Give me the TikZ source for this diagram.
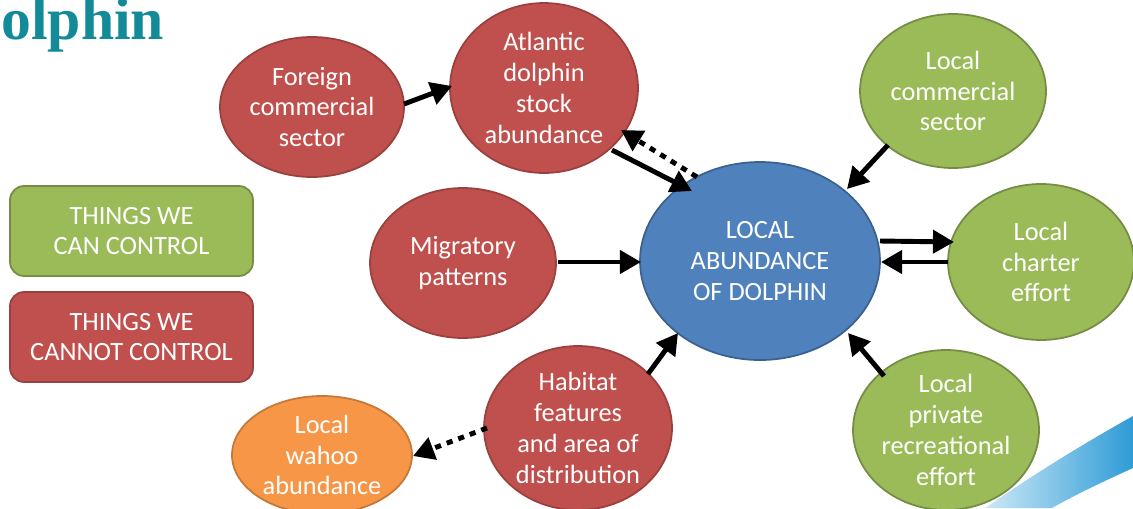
\documentclass[tikz,border=0pt]{standalone}
\usepackage{fontspec}
\setmainfont{Carlito}
\newfontfamily\titlefont{Liberation Serif}
\usetikzlibrary{shapes.geometric,arrows.meta}
\definecolor{cred}{HTML}{C0504D}
\definecolor{cgreen}{HTML}{9BBB59}
\definecolor{cblue}{HTML}{4F81BD}
\definecolor{corange}{HTML}{F79646}
\definecolor{cteal}{HTML}{138A98}
\definecolor{swdark}{HTML}{2E9BD6}
\definecolor{swlight}{HTML}{CDE9F7}
\tikzset{
  bub/.style={ellipse, inner sep=0pt, align=center, text=white,
    font=\fontsize{15}{17.6}\selectfont, line width=1pt},
  redb/.style={bub, fill=cred, draw=cred!80!black},
  greenb/.style={bub, fill=cgreen, draw=cgreen!75!black},
  blueb/.style={bub, fill=cblue, draw=cblue!75!black},
  orangeb/.style={bub, fill=corange, draw=corange!80!black},
  legbox/.style={rounded corners=8pt, inner sep=0pt, align=center, text=white,
    font=\fontsize{15}{17.6}\selectfont, line width=1pt, minimum width=4.86cm, minimum height=1.8cm},
  arr/.style={line width=2.8pt, -{Triangle[length=12pt,width=13pt]}},
  darr/.style={arr, dash pattern=on 3.5pt off 3.5pt},
}
\begin{document}
\begin{tikzpicture}[x=0.02cm,y=-0.02cm]
\useasboundingbox (0,0) rectangle (1133,508);
% swoosh
\shade[left color=swlight, right color=swdark]
  (985,508) .. controls (1040,470) and (1090,440) .. (1133,416)
  -- (1133,468) .. controls (1100,483) and (1075,495) .. (1052,508) -- cycle;
% title
\node[anchor=base west, inner sep=0pt, text=cteal, font=\titlefont\bfseries\fontsize{34}{38}\selectfont] (title) at (1,39) {olphin};
% nodes
\node[redb, minimum width=3.68cm, minimum height=2.8cm] (foreign) at (312,107) {Foreign\\commercial\\sector};
\node[redb, minimum width=3.76cm, minimum height=3.4cm] (atlantic) at (544,88) {Atlantic\\dolphin\\stock\\abundance};
\node[greenb, minimum width=3.72cm, minimum height=3.08cm] (lcomm) at (953,91) {Local\\commercial\\sector};
\node[blueb, minimum width=4.8cm, minimum height=3.96cm] (local) at (760,261) {LOCAL\\ABUNDANCE\\OF DOLPHIN};
\node[redb, minimum width=3.72cm, minimum height=3.0cm] (migr) at (463,263) {Migratory\\patterns};
\node[greenb, minimum width=3.72cm, minimum height=3.12cm] (charter) at (1041,262) {Local\\charter\\effort};
\node[redb, minimum width=3.76cm, minimum height=3.28cm] (habitat) at (578,428) {Habitat\\features\\and area of\\distribution};
\node[orangeb, minimum width=3.6cm, minimum height=2.36cm] (wahoo) at (322,455) {Local\\wahoo\\abundance};
\node[greenb, minimum width=3.72cm, minimum height=3.2cm] (private) at (946,430) {Local\\private\\recreational\\effort};
% legend
\node[legbox, fill=cgreen, draw=cgreen!75!black] (can) at (131.5,231) {THINGS WE\\CAN CONTROL};
\node[legbox, fill=cred, draw=cred!80!black] (cannot) at (131.5,337) {THINGS WE\\CANNOT CONTROL};
% connector end points
\coordinate (f1) at (404,104); \coordinate (f2) at (452,86);
\coordinate (a1) at (612,150); \coordinate (b1) at (692,191);
\coordinate (b2) at (697,177); \coordinate (a2) at (621,130);
\coordinate (c1) at (888,145); \coordinate (b3) at (847,189);
\coordinate (m1) at (558,262); \coordinate (b4) at (641,262);
\coordinate (b5) at (880,241); \coordinate (h1) at (954,242);
\coordinate (h2) at (948,262); \coordinate (b6) at (881,262);
\coordinate (p1) at (884,376); \coordinate (b7) at (848,333);
\coordinate (ha1) at (648,374); \coordinate (b8) at (678,333);
\coordinate (ha2) at (487,428); \coordinate (w1) at (413,456);
% arrows
\draw[arr] (f1) -- (f2);
\draw[arr] (a1) -- (b1);
\draw[darr] (b2) -- (a2);
\draw[arr] (c1) -- (b3);
\draw[arr] (m1) -- (b4);
\draw[arr] (b5) -- (h1);
\draw[arr] (h2) -- (b6);
\draw[arr] (p1) -- (b7);
\draw[arr] (ha1) -- (b8);
\draw[darr] (ha2) -- (w1);
\end{tikzpicture}
\end{document}
